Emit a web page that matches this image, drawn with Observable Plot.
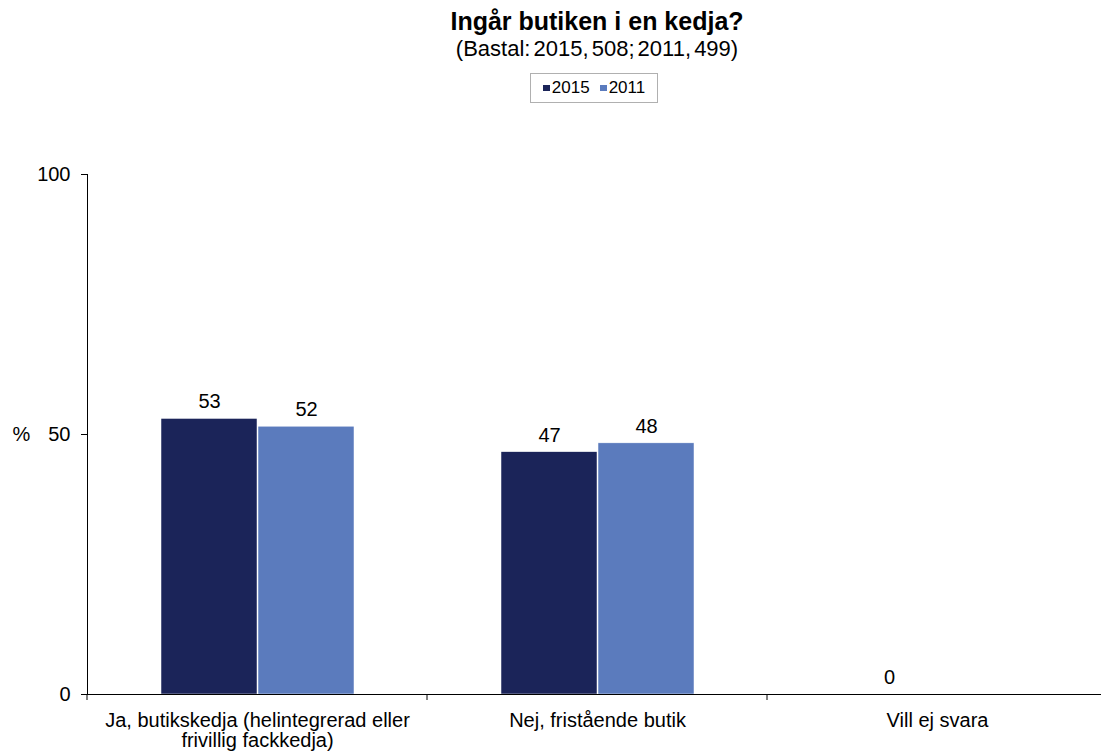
<!DOCTYPE html>
<html><head><meta charset="utf-8">
<script src="https://cdn.jsdelivr.net/npm/d3@7"></script>
<script src="https://cdn.jsdelivr.net/npm/@observablehq/plot@0.6"></script>
<style>
html,body{margin:0;background:#fff;font-family:"Liberation Sans",Arial,sans-serif;overflow:hidden;}
#head{position:relative;width:1101px;height:110px;}
#title{position:absolute;left:87px;width:1020px;top:6px;text-align:center;font-weight:bold;font-size:25px;line-height:30px;}
#sub{position:absolute;left:87px;width:1020px;top:36px;text-align:center;font-size:22px;line-height:26px;word-spacing:-3px;}
#legend{position:absolute;left:530px;top:73px;width:126px;height:28px;border:1px solid #b0b0b0;display:flex;align-items:center;justify-content:center;font-size:17px;gap:10px;}
.sw{display:inline-block;width:7px;height:6px;margin-right:2px;vertical-align:middle;position:relative;top:-1px;}
#chart{width:1101px;overflow:hidden;}
</style></head>
<body>
<div id="head">
<div id="title">Ingår butiken i en kedja?</div>
<div id="sub">(Bastal: 2015, 508; 2011, 499)</div>
<div id="legend"></div>
</div>
<div id="chart"></div>
<script>
const categories = ["Ja, butikskedja (helintegrerad eller\nfrivillig fackkedja)", "Nej, fristående butik", "Vill ej svara"];
const years = ["2015", "2011"];
const values2015 = [53.0, 46.6, 0];
const values2011 = [51.5, 48.3, null];
const colors = ["#1b2459", "#5b7bbd"];
const yTicks = [0, 50, 100];

const data = [];
categories.forEach((c, i) => {
  if (values2015[i] != null) data.push({cat: c, year: years[0], v: values2015[i]});
  if (values2011[i] != null) data.push({cat: c, year: years[1], v: values2011[i]});
});

document.getElementById("legend").innerHTML = years.map((y, i) =>
  `<span><span class="sw" style="background:${colors[i]}"></span>${y}</span>`).join("");

const plot = Plot.plot({
  width: 1108,
  height: 643,
  marginTop: 64,
  marginBottom: 59,
  marginLeft: 87,
  marginRight: 1,
  style: {fontFamily: '"Liberation Sans", Arial, sans-serif', fontSize: "20px", color: "#000", overflow: "visible", maxWidth: "none"},
  fx: {domain: categories, padding: 0, label: null},
  x: {domain: years, paddingInner: 0.015, paddingOuter: 0.744, axis: null},
  y: {domain: [0, 100], label: null},
  color: {domain: years, range: colors},
  marks: [
    Plot.barY(data, {fx: "cat", x: "year", y: "v", fill: "year", stroke: "white", strokeWidth: 0.5}),
    Plot.text(data, {fx: "cat", x: "year", y: "v", text: d => String(Math.round(d.v)), dy: -17, fontSize: 20, fill: "#000"}),
    Plot.ruleY([0], {stroke: "#000", strokeWidth: 1}),
    Plot.frame({anchor: "left", facetAnchor: "left", stroke: "#000"}),
    Plot.axisY({ticks: yTicks, tickSize: 6, tickPadding: 11, fontSize: 20, label: null, anchor: "left"}),
    Plot.axisFx({anchor: "bottom", tickSize: 0, tickPadding: 18, fontSize: 20, lineHeight: 1.0, label: null}),
    Plot.text([0], {fx: () => categories[0], y: () => 50, text: () => "%", frameAnchor: "left", textAnchor: "start", dx: -75, fontSize: 20, fill: "#000"})
  ]
});
plot.style.maxWidth = "none";
plot.style.width = "1108px";
document.getElementById("chart").appendChild(plot);

// category boundary ticks below the x axis, from the fx scale
const fx = plot.scale("fx");
const y = plot.scale("y");
const svg = d3.select(plot);
const y0 = y.apply(0);
const bounds = categories.map(c => fx.apply(c)).concat([fx.apply(categories[categories.length - 1]) + fx.bandwidth]);
svg.append("g").selectAll("line").data(bounds).join("line")
  .attr("x1", d => d).attr("x2", d => d)
  .attr("y1", y0).attr("y2", y0 + 6)
  .attr("stroke", "#000");
</script>
</body></html>
